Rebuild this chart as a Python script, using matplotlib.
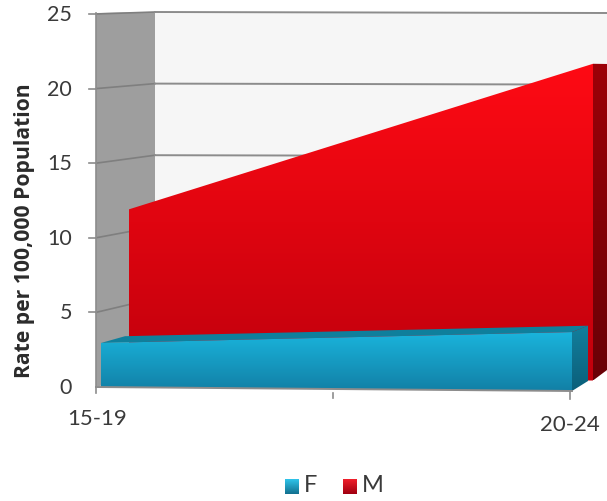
import numpy as np
import matplotlib
matplotlib.use("Agg")
import matplotlib.pyplot as plt
from matplotlib.patches import Polygon

plt.rcParams['font.family'] = ['Lato', 'DejaVu Sans']

categories = ["15-19", "20-24"]
f_values = [2.95, 3.95]
m_values = [11.6, 21.4]
y_ticks = [0, 5, 10, 15, 20, 25]
series_names = ["F", "M"]

# Projection of the 3-D chart: (left x, right x, left base y, right base y, px per unit)
PLANES = {
    "front": (96, 572, 387, 391, 14.92),
    "f_front": (101, 572, 387, 391, 14.92),
    "f_back": (125, 588, 377.5, 381, 14.0),
    "m_front": (129, 593, 381, 380.5, 14.8),
    "m_back": (155, 607, 370, 370, 14.3),
    "wall": (155, 640, 370, 370, 14.32),
}


def project(plane, cat, value):
    xl, xr, yl, yr, s = PLANES[plane]
    return (xl + (xr - xl) * cat, yl + (yr - yl) * cat - s * value)


fig = plt.figure(figsize=(6.07, 5.01), dpi=100)
ax = fig.add_axes([0, 0, 1, 1])
ax.set_xlim(0, 607)
ax.set_ylim(501, 0)
ax.axis("off")


def poly(points, **kw):
    p = Polygon(points, closed=True, linewidth=0, **kw)
    ax.add_patch(p)
    return p


def gradient(points, c_top, c_bottom, zorder):
    pts = np.array(points)
    p = poly(points, facecolor="none", zorder=zorder)
    top, bottom = pts[:, 1].min(), pts[:, 1].max()
    ramp = np.linspace(0, 1, 64)[:, None, None]
    a, b = np.array(matplotlib.colors.to_rgb(c_top)), np.array(matplotlib.colors.to_rgb(c_bottom))
    img = a[None, None, :] * (1 - ramp) + b[None, None, :] * ramp
    im = ax.imshow(img, extent=(pts[:, 0].min(), pts[:, 0].max(), bottom, top),
                   aspect="auto", zorder=zorder, interpolation="bilinear")
    im.set_clip_path(p)


# back wall and side wall
wall_top = project("wall", 0, 25)
poly([wall_top, (607, 12.5), (607, 372), (155, 372)], facecolor="#f6f6f6", zorder=1)
poly([(96, 13), wall_top, (155, 372), (96, 387)], facecolor="#9e9e9e", zorder=2)

# gridlines
for v in y_ticks[1:]:
    x0, y0 = project("wall", 0, v)
    y1 = 387 - 14.92 * v
    ax.plot([96, x0], [y1, y0], color="#7f7f7f", lw=1.2, zorder=3)
    ax.plot([x0, 607], [y0, y0 + 1], color="#8c8c8c", lw=1.4, zorder=3)
    ax.plot([89, 96], [y1, y1], color="#8c8c8c", lw=1.2, zorder=3)
ax.plot([96, 96], [13, 393], color="#8c8c8c", lw=1.2, zorder=3)

# M series
m_front = [project("m_front", 0, m_values[0]), project("m_front", 1, m_values[1]),
           project("m_front", 1, 0), project("m_front", 0, 0)]
gradient(m_front, "#ff0a14", "#c0000c", 4)
m_side = [project("m_front", 1, m_values[1]), project("m_back", 1, m_values[1]),
          project("m_back", 1, 0), project("m_front", 1, 0)]
gradient(m_side, "#9c0008", "#6a0006", 5)

# F series
f_top = [project("f_front", 0, f_values[0]), project("f_back", 0, f_values[0]),
         project("f_back", 1, f_values[1]), project("f_front", 1, f_values[1])]
poly(f_top, facecolor="#0f7f9c", zorder=6)
f_side = [project("f_front", 1, f_values[1]), project("f_back", 1, f_values[1]),
          project("f_back", 1, 0), project("f_front", 1, 0)]
gradient(f_side, "#137f9d", "#0b5f7a", 7)
f_front = [project("f_front", 0, f_values[0]), project("f_front", 1, f_values[1]),
           project("f_front", 1, 0), project("f_front", 0, 0)]
gradient(f_front, "#1ab4dc", "#1280a6", 8)

# axis line and ticks
ax.plot([96, 572], [387, 391], color="#8c8c8c", lw=1.4, zorder=9)
ax.plot([333, 333], [393, 398], color="#8c8c8c", lw=1.2, zorder=9)
ax.plot([570, 570], [391, 399], color="#8c8c8c", lw=1.2, zorder=9)

# text
txt = "#3a3a3a"
for v in y_ticks:
    y = 387 - 14.92 * v
    ax.text(72, y + 1, str(v), ha="right", va="center", fontsize=15.5, color=txt)
ax.text(97.5, 419, categories[0], ha="center", va="center", fontsize=16, color=txt)
ax.text(570, 425, categories[1], ha="center", va="center", fontsize=16, color=txt)
ax.text(25, 231, "Rate per 100,000 Population", rotation=90, ha="center", va="center",
        fontsize=15.2, fontweight="bold", color="#2b2b2b", family=["Open Sans", "DejaVu Sans"])

# legend
for name, x0, c1, c2 in zip(series_names, [285, 343], ["#2fc4ea", "#f0202c"], ["#12708f", "#a00010"]):
    gradient([(x0, 479), (x0 + 14, 479), (x0 + 14, 494), (x0, 494)], c1, c2, 10)
    ax.text(x0 + 19, 486, name, ha="left", va="center", fontsize=17, color=txt)

ax.set_xlim(0, 607)
ax.set_ylim(501, 0)
fig.savefig("out.png", dpi=100)
